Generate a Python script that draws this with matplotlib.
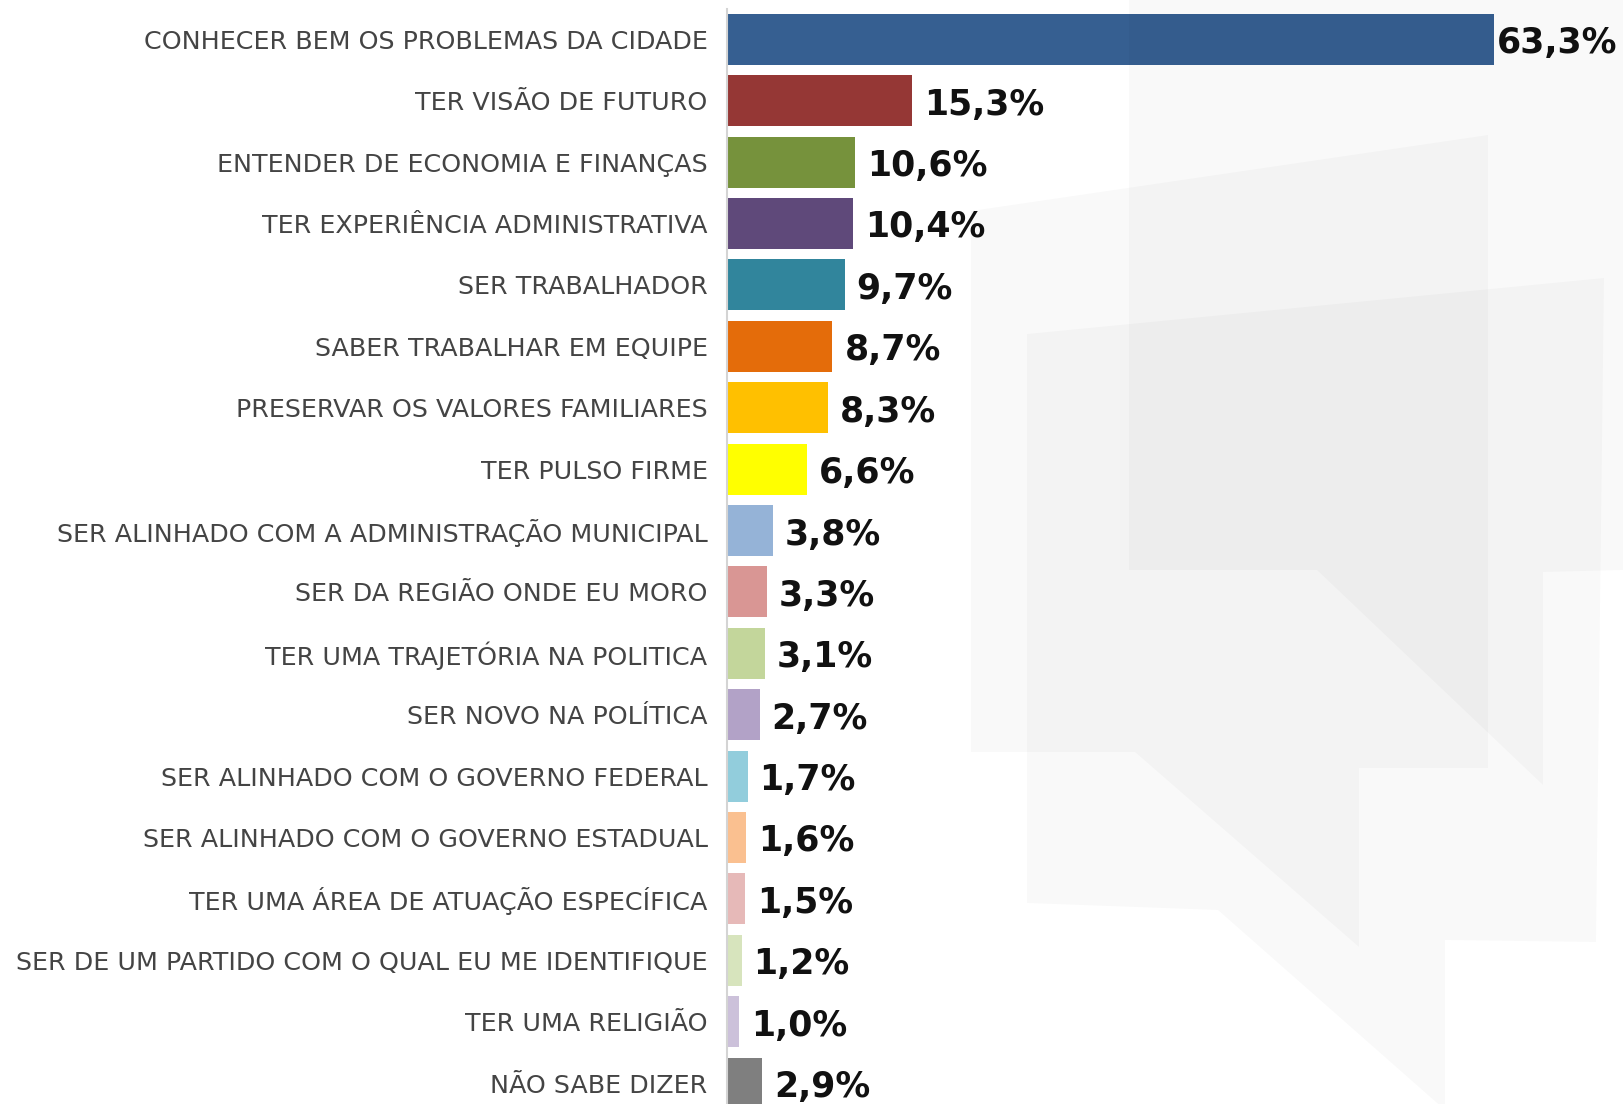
import matplotlib.pyplot as plt
from matplotlib.patches import Polygon

categories = [
    "CONHECER BEM OS PROBLEMAS DA CIDADE",
    "TER VISÃO DE FUTURO",
    "ENTENDER DE ECONOMIA E FINANÇAS",
    "TER EXPERIÊNCIA ADMINISTRATIVA",
    "SER TRABALHADOR",
    "SABER TRABALHAR EM EQUIPE",
    "PRESERVAR OS VALORES FAMILIARES",
    "TER PULSO FIRME",
    "SER ALINHADO COM A ADMINISTRAÇÃO MUNICIPAL",
    "SER DA REGIÃO ONDE EU MORO",
    "TER UMA TRAJETÓRIA NA POLITICA",
    "SER NOVO NA POLÍTICA",
    "SER ALINHADO COM O GOVERNO FEDERAL",
    "SER ALINHADO COM O GOVERNO ESTADUAL",
    "TER UMA ÁREA DE ATUAÇÃO ESPECÍFICA",
    "SER DE UM PARTIDO COM O QUAL EU ME IDENTIFIQUE",
    "TER UMA RELIGIÃO",
    "NÃO SABE DIZER",
]
values = [63.3, 15.3, 10.6, 10.4, 9.7, 8.7, 8.3, 6.6, 3.8, 3.3, 3.1, 2.7,
          1.7, 1.6, 1.5, 1.2, 1.0, 2.9]
colors = ["#365f91", "#953735", "#76923c", "#5f497a", "#31859c", "#e46c0a",
          "#ffc000", "#ffff00", "#95b3d7", "#d99694", "#c3d69b", "#b2a2c7",
          "#92cddc", "#fac090", "#e6b9b8", "#d7e4bd", "#ccc1da", "#7f7f7f"]

W, H = 1623, 1104
fig = plt.figure(figsize=(W / 100, H / 100), dpi=100)
fig.patch.set_facecolor("white")

# faint speech-bubble watermark behind the bars (pixel coords of the image)
shapes = [
    [(1129, 0), (1623, 0), (1623, 570), (1543, 572), (1543, 785), (1317, 570), (1129, 570)],
    [(971, 211), (1488, 135), (1488, 768), (1359, 768), (1359, 947), (1135, 752), (971, 752)],
    [(1027, 334), (1604, 278), (1596, 942), (1445, 940), (1445, 1110), (1218, 910), (1027, 903)],
]
for s in shapes:
    pts = [(x / W, 1 - y / H) for x, y in s]
    fig.patches.append(Polygon(pts, closed=True, transform=fig.transFigure,
                               facecolor="black", alpha=0.022, edgecolor="none", zorder=0))

row = 61.4
top_px = 39.3 - row / 2
n_below = (H - 39.3) / row
ax = fig.add_axes([727 / W, 0, (1494 - 727) / W, 1 - top_px / H])
ax.patch.set_visible(False)

y = list(range(len(values)))
ax.barh(y, values, height=0.83, color=colors, zorder=2)
ax.set_xlim(0, max(values))
ax.set_ylim(n_below, -0.5)

for yi, v in zip(y, values):
    dx = 3 if v == max(values) else 12
    ax.annotate(f"{v:.1f}".replace(".", ",") + "%", (v, yi),
                xytext=(dx, -4), textcoords="offset pixels",
                ha="left", va="center", fontsize=25, fontweight="bold",
                color="#111111", annotation_clip=False)

ax.set_yticks(y)
ax.set_yticklabels(categories, fontsize=18.3, color="#444444")
ax.tick_params(axis="y", length=0, pad=14)
ax.set_xticks([])
for side in ["top", "right", "bottom"]:
    ax.spines[side].set_visible(False)
ax.spines["left"].set_color("#d4d4d4")
ax.spines["left"].set_linewidth(1.5)

fig.savefig("out.png", dpi=100)
